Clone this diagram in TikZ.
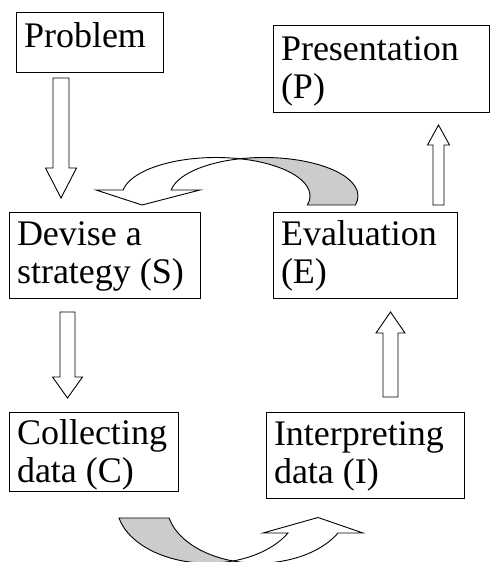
\documentclass[tikz,border=0pt]{standalone}
\usepackage{fontspec}
\setmainfont{Liberation Serif}
\definecolor{backface}{RGB}{204,204,204}
\begin{document}
\begin{tikzpicture}[x=1pt,y=-1pt,line join=miter,
  box/.style={draw,line width=1pt,anchor=north west,inner xsep=8pt,inner ysep=0pt,outer sep=0pt,
              font=\fontsize{36}{38}\selectfont},
  blockarrow/.style={draw,line width=0.9pt,fill=white},
  ribbon/.style={draw,line width=0.9pt}]
\useasboundingbox (0,0) rectangle (490,562);
\clip (0,0) rectangle (490,562);

% boxes
\node[box,text height=35pt,text depth=25pt] (prob) at (16,12)
  {\parbox[t]{131pt}{\raggedright Problem}};
\node[box,text height=35pt,text depth=52pt] (pres) at (273,25)
  {\parbox[t]{200pt}{\raggedright Presentation\\(P)}};
\node[box,text height=33pt,text depth=53pt] (strat) at (9,212)
  {\parbox[t]{175pt}{\raggedright Devise a\\strategy (S)}};
\node[box,text height=33pt,text depth=53pt] (eval) at (273,212)
  {\parbox[t]{168pt}{\raggedright Evaluation\\(E)}};
\node[box,text height=32pt,text depth=47pt] (coll) at (9,412)
  {\parbox[t]{153pt}{\raggedright Collecting\\data (C)}};
\node[box,text height=33pt,text depth=53pt] (interp) at (266,412)
  {\parbox[t]{182pt}{\raggedright Interpreting\\data (I)}};

% straight block arrows
\draw[blockarrow] (53,78) -- (69,78) -- (69,168) -- (76.5,168) -- (61,198)
  -- (45.5,168) -- (53,168) -- cycle;
\draw[blockarrow] (60,312) -- (75,312) -- (75,377) -- (82.5,377) -- (67.5,398)
  -- (52.5,377) -- (60,377) -- cycle;
\draw[blockarrow] (383,397) -- (398,397) -- (398,333) -- (405,333) -- (390.5,312)
  -- (376,333) -- (383,333) -- cycle;
\draw[blockarrow] (433,205) -- (444,205) -- (444,145) -- (449.5,145) -- (438.5,125)
  -- (427.5,145) -- (433,145) -- cycle;

% curved arrow E -> S (top)
\filldraw[ribbon,fill=backface] (216,196) ++(13.5:94 and 38.5)
  arc[start angle=13.5,end angle=-75.2,x radius=94,y radius=38.5]
  arc[start angle=-104.8,end angle=13.5,x radius=94,y radius=38.5] -- cycle;
\filldraw[ribbon,fill=white] (216,196) ++(-171:94 and 38.5)
  arc[start angle=-171,end angle=-75.2,x radius=94,y radius=38.5]
  arc[start angle=-104.8,end angle=-171,x radius=94,y radius=38.5]
  -- (200,190) -- (142,205) -- (96,190) -- cycle;

% curved arrow C -> I (bottom)
\filldraw[ribbon,fill=backface] (208,504.7) ++(166.9:91.4 and 58.5)
  arc[start angle=166.9,end angle=74.1,x radius=91.4,y radius=58.5]
  arc[start angle=105.9,end angle=166.9,x radius=91.4,y radius=58.5] -- cycle;
\filldraw[ribbon,fill=white] (208,504.7) ++(74.1:91.4 and 58.5)
  arc[start angle=74.1,end angle=28.9,x radius=91.4,y radius=58.5]
  -- (263,533) -- (318,517.5) -- (363,533) -- (338,533)
  arc[start angle=28.9,end angle=105.9,x radius=91.4,y radius=58.5] -- cycle;
\end{tikzpicture}
\end{document}
